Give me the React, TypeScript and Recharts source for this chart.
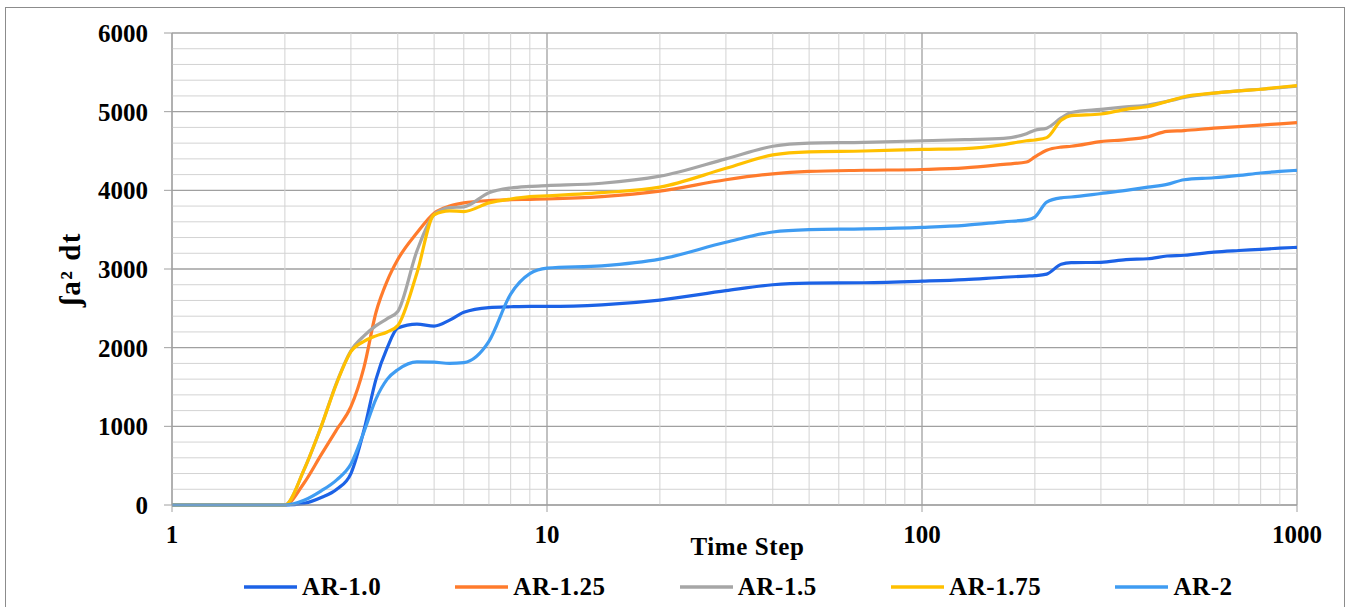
import React from 'react';
import { LineChart, Line, XAxis, YAxis, CartesianGrid, ReferenceLine, Legend, Label } from 'recharts';

const timeSteps = [1, 1.5, 2, 2.25, 2.5, 2.75, 3, 3.25, 3.5, 3.75, 4, 4.5, 5, 5.5, 6, 7, 8, 9, 10, 14, 20, 30, 40, 50, 70, 100, 130, 165, 190, 200, 215, 235, 250, 300, 350, 400, 450, 500, 600, 700, 800, 900, 1000];

const ar10 = [0, 0, 0, 20, 95, 200, 400, 950, 1600, 2000, 2250, 2300, 2275, 2350, 2450, 2510, 2520, 2525, 2525, 2545, 2605, 2725, 2800, 2820, 2825, 2845, 2865, 2895, 2910, 2915, 2935, 3060, 3080, 3085, 3120, 3130, 3165, 3175, 3215, 3235, 3250, 3265, 3275];
const ar125 = [0, 0, 0, 280, 640, 960, 1250, 1750, 2450, 2850, 3120, 3460, 3710, 3800, 3840, 3870, 3880, 3885, 3890, 3920, 3990, 4135, 4210, 4240, 4255, 4265, 4285, 4330, 4360, 4425, 4510, 4550, 4560, 4620, 4645, 4680, 4750, 4760, 4790, 4810, 4830, 4845, 4860];
const ar15 = [0, 0, 0, 450, 1000, 1560, 1960, 2150, 2280, 2370, 2460, 3230, 3690, 3780, 3790, 3970, 4030, 4050, 4060, 4090, 4180, 4400, 4560, 4600, 4610, 4630, 4645, 4660, 4720, 4765, 4790, 4920, 4990, 5030, 5060, 5085, 5130, 5180, 5235, 5265, 5285, 5305, 5325];
const ar175 = [0, 0, 0, 450, 1000, 1550, 1950, 2080, 2150, 2200, 2280, 2950, 3690, 3740, 3730, 3840, 3890, 3920, 3930, 3970, 4040, 4280, 4450, 4490, 4500, 4520, 4530, 4580, 4630, 4640, 4670, 4890, 4950, 4970, 5030, 5065, 5130, 5190, 5235, 5265, 5285, 5310, 5330];
const ar2 = [0, 0, 0, 60, 180, 320, 520, 930, 1350, 1600, 1720, 1820, 1815, 1800, 1810, 2080, 2680, 2940, 3010, 3040, 3125, 3340, 3470, 3500, 3510, 3530, 3555, 3600, 3625, 3660, 3850, 3905, 3915, 3960, 4000, 4040, 4075, 4135, 4160, 4190, 4220, 4240, 4255];

const seriesNames = ['AR-1.0', 'AR-1.25', 'AR-1.5', 'AR-1.75', 'AR-2'];
const seriesValues = [ar10, ar125, ar15, ar175, ar2];
const seriesColors = ['#1c62e6', '#ff7b2c', '#a6a6a6', '#ffc000', '#3f9cf2'];

const xTicks = [1, 10, 100, 1000];
const yTicks = [0, 1000, 2000, 3000, 4000, 5000, 6000];
const xMinor = [2, 3, 4, 5, 6, 7, 8, 9, 20, 30, 40, 50, 60, 70, 80, 90, 200, 300, 400, 500, 600, 700, 800, 900];
const yMinor = [200, 400, 600, 800, 1200, 1400, 1600, 1800, 2200, 2400, 2600, 2800, 3200, 3400, 3600, 3800, 4200, 4400, 4600, 4800, 5200, 5400, 5600, 5800];

const data = timeSteps.map((t, i) => {
  const row: Record<string, number> = { t };
  seriesNames.forEach((n, k) => { row[n] = seriesValues[k][i]; });
  return row;
});

const FONT = '"Liberation Serif", "Times New Roman", serif';
const tickStyle = { fontFamily: FONT, fontWeight: 700, fontSize: 25, fill: '#000' };

const renderLegend = (props: any) => {
  const { payload } = props;
  return (
    <div style={{ display: 'flex', alignItems: 'center' }}>
      {payload.map((p: any) => (
        <div key={p.value} style={{ display: 'flex', alignItems: 'center', marginRight: 74 }}>
          <svg width={53} height={6} style={{ display: 'block' }}>
            <line x1={0} y1={3} x2={53} y2={3} stroke={p.color} strokeWidth={3.5} />
          </svg>
          <span style={{ marginLeft: 5, fontFamily: FONT, fontWeight: 700, fontSize: 25, letterSpacing: 0.6, color: '#000', lineHeight: '29px' }}>{p.value}</span>
        </div>
      ))}
    </div>
  );
};

const YTitle = (props: any) => {
  const vb = props.viewBox || { x: 0, y: 33, width: 172, height: 472 };
  const cx = vb.x + 70;
  const cy = vb.y + vb.height / 2;
  return (
    <text x={cx} y={cy} transform={`rotate(-90, ${cx}, ${cy})`} textAnchor="middle" dominantBaseline="central"
      style={{ fontFamily: FONT, fontWeight: 700, fontSize: 29, letterSpacing: 1.5, fill: '#000' }}>
      ʃa² dt
    </text>
  );
};

export default function App() {
  return (
    <div style={{ position: 'absolute', left: 0, top: 0, width: 1350, height: 607, background: '#fff', overflow: 'hidden' }}>
      <div style={{ position: 'absolute', left: 5, top: 7, width: 1340, height: 640, border: '1.5px solid #8c8c8c', boxSizing: 'border-box' }} />
      <LineChart width={1350} height={607} data={data} margin={{ top: 33, right: 53, bottom: 62, left: 0 }}>
        <CartesianGrid stroke="#a0a0a0" strokeWidth={1.3} horizontal vertical />
        {xMinor.map((v) => (
          <ReferenceLine key={'vx' + v} x={v} stroke="#d3d3d3" strokeWidth={1} />
        ))}
        {yMinor.map((v) => (
          <ReferenceLine key={'hy' + v} y={v} stroke="#d3d3d3" strokeWidth={1} />
        ))}
        <XAxis dataKey="t" type="number" scale="log" domain={[1, 1000]} ticks={xTicks} allowDataOverflow
          height={40} tickSize={7} tickMargin={13} stroke="#a0a0a0" tick={tickStyle} interval={0}>
          <Label value="Time Step" position="bottom" offset={-8} dx={13}
            style={{ fontFamily: FONT, fontWeight: 700, fontSize: 25, fill: '#000', letterSpacing: 0.6 }} />
        </XAxis>
        <YAxis type="number" domain={[0, 6000]} ticks={yTicks} width={172} tickSize={8} tickMargin={16}
          stroke="#a0a0a0" tick={tickStyle} interval={0}>
          <Label content={YTitle} />
        </YAxis>
        {seriesNames.map((n, k) => (
          <Line key={n} dataKey={n} name={n} type="monotone" stroke={seriesColors[k]} strokeWidth={3.2}
            dot={false} activeDot={false} isAnimationActive={false} />
        ))}
        <Legend layout="horizontal" verticalAlign="middle" align="center" content={renderLegend}
          wrapperStyle={{ left: 244, top: 572, width: 1100, height: 30 }} />
      </LineChart>
    </div>
  );
}
